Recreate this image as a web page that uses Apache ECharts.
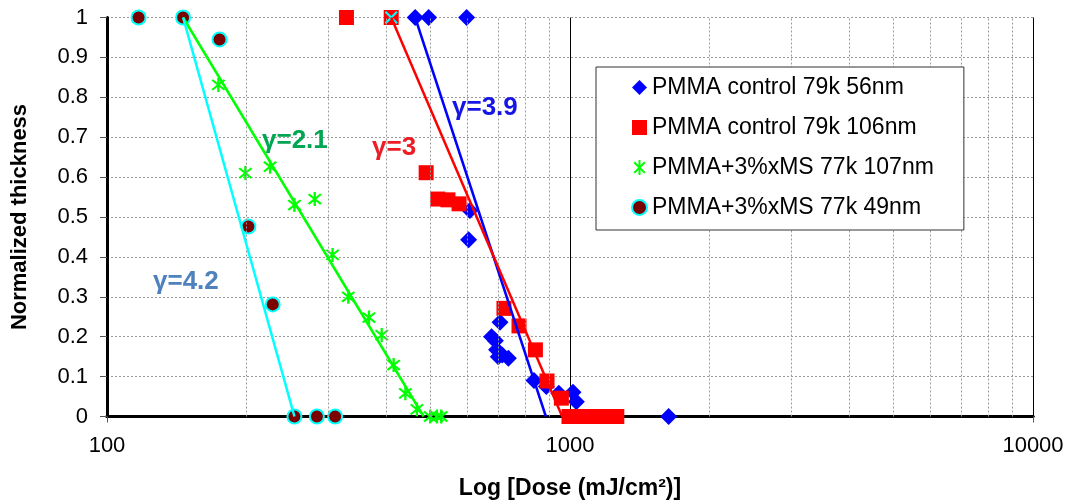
<!DOCTYPE html>
<html><head><meta charset="utf-8">
<script src="https://cdn.jsdelivr.net/npm/echarts@6/dist/echarts.min.js"></script>
<style>html,body{margin:0;padding:0;background:#fff}#c{width:1077px;height:502px}</style>
</head><body><div id="c"></div>
<script>
// ---------- data (dose in mJ/cm², normalized thickness) ----------
const names = ['PMMA control 79k 56nm','PMMA control 79k 106nm','PMMA+3%xMS 77k 107nm','PMMA+3%xMS 77k 49nm'];
const blueDose  = [463,495,598,608,604,706,677,690,694,700,714,736,836,889,946,1015,1032,1633];
const blueThick = [1,1,1,0.516,0.443,0.236,0.200,0.190,0.167,0.150,0.154,0.146,0.090,0.075,0.058,0.061,0.037,0];
const redDose   = [329,411,489,518,545,576,720,776,842,892,958,995,1020,1045,1070,1095,1120,1150,1180,1210,1240,1262];
const redThick  = [1,1,0.611,0.545,0.543,0.533,0.271,0.227,0.167,0.089,0.046,0,0,0,0,0,0,0,0,0,0,0];
const greenDose = [117,146,174,199,225,254,281,307,332,368,392,416,441,467,499,516,527];
const greenThick= [1,1,0.831,0.610,0.626,0.530,0.545,0.405,0.300,0.248,0.204,0.129,0.058,0.018,0,0,0];
const darkDose  = [117,146,175,202,228,254,284,311];
const darkThick = [1,1,0.945,0.476,0.281,0,0,0];
const crossDose = [411];
const crossThick= [1];
// fitted gamma lines (start, end)
const fitBlueDose  = [463,887];  const fitBlueThick  = [1,0];
const fitRedDose   = [411,962];  const fitRedThick   = [1,0];
const fitGreenDose = [146,483];  const fitGreenThick = [1,0];
const fitCyanDose  = [146,254];  const fitCyanThick  = [1,0];
const minorGrid = [200,300,400,500,600,700,800,900,2000,3000,4000,5000,6000,7000,8000,9000];
const xTickLabels = {100:'100', 1000:'1000', 10000:'10000'};
const gammaLabels = ['γ=3.9','γ=3','γ=2.1','γ=4.2'];
const xTitle = 'Log [Dose (mJ/cm²)]';
const yTitle = 'Normalized thickness';

const zip = (a,b) => a.map((v,i)=>[v,b[i]]);
const FONT = '"Liberation Sans", Arial, sans-serif';
const asterisk = 'path://M8.8,1L11.2,1L11.2,19L8.8,19Z M4.45,2.75L17.25,15.55L15.55,17.25L2.75,4.45Z M2.75,15.55L15.55,2.75L17.25,4.45L4.45,17.25Z';
const xmark = 'path://M4.45,2.75L17.25,15.55L15.55,17.25L2.75,4.45Z M2.75,15.55L15.55,2.75L17.25,4.45L4.45,17.25Z';

const chart = echarts.init(document.getElementById('c'), null, {renderer:'canvas'});
const fitLine = (d, t, color) => ({
  type:'line', data: zip(d,t), symbol:'none', z:5, silent:true,
  lineStyle:{color, width:2.5}, animation:false
});

chart.setOption({
  animation:false,
  backgroundColor:'#fff',
  grid:{left:107, right:44, top:17.5, bottom:85.5, containLabel:false, outerBoundsMode:'none'},
  xAxis:[{
    type:'log', logBase:10, min:100, max:10000,
    name:xTitle, nameLocation:'middle', nameGap:61,
    nameTextStyle:{fontFamily:FONT, fontSize:23, fontWeight:'bold', color:'#000'},
    axisLine:{show:true, onZero:false, lineStyle:{color:'#000', width:3}},
    axisTick:{show:true, length:6, lineStyle:{color:'#555', width:1}},
    axisLabel:{fontFamily:FONT, fontSize:22, color:'#000', margin:18,
      formatter:v => xTickLabels[Math.round(v)] || String(Math.round(v))},
    splitLine:{show:true, lineStyle:{color:'#000', width:1}},
    minorTick:{show:false}, minorSplitLine:{show:false}
  },{
    type:'log', logBase:10, min:100, max:10000, position:'top',
    axisLine:{show:true, lineStyle:{color:'#000', width:3}},
    axisTick:{show:false}, axisLabel:{show:false}, splitLine:{show:false}
  }],
  yAxis:{
    type:'value', min:0, max:1, interval:0.1,
    name:yTitle, nameLocation:'middle', nameGap:76, nameRotate:90,
    nameTextStyle:{fontFamily:FONT, fontSize:22, fontWeight:'bold', color:'#000'},
    axisLine:{show:true, lineStyle:{color:'#000', width:3}},
    axisTick:{show:true, length:7, lineStyle:{color:'#555', width:1}},
    axisLabel:{fontFamily:FONT, fontSize:22, color:'#000', margin:19,
      formatter:v => String(Math.round(v*10)/10)},
    splitLine:{show:true, lineStyle:{color:'#9a9a9a', width:1, type:[2,2]}}
  },
  legend:{
    data:names, orient:'vertical', left:596, top:67,
    itemWidth:15, itemHeight:15, itemGap:17,
    padding:[9,30,11,35], borderColor:'#333', borderWidth:1, backgroundColor:'#fff',
    textStyle:{fontFamily:FONT, fontSize:23, color:'#000'},
    selectedMode:false, z:20
  },
  series:[
    {type:'line', data:[], silent:true, z:1,
     markLine:{silent:true, symbol:['none','none'], label:{show:false}, animation:false,
       lineStyle:{color:'#9a9a9a', width:1, type:[2,2]},
       data:minorGrid.map(v=>({xAxis:v}))}},
    {name:names[0], type:'scatter', data:zip(blueDose,blueThick), symbol:'diamond', symbolSize:17, z:3,
     itemStyle:{color:'#0000FF', opacity:1}},
    {name:names[1], type:'scatter', data:zip(redDose,redThick), symbol:'rect', symbolSize:15, z:3,
     itemStyle:{color:'#FF0000', opacity:1}},
    {name:names[2], type:'scatter', data:zip(greenDose,greenThick), symbol:asterisk, symbolSize:14, z:3,
     itemStyle:{color:'#00FF00', opacity:1}},
    {name:names[3], type:'scatter', data:zip(darkDose,darkThick), symbol:'circle', symbolSize:14, z:4,
     itemStyle:{color:'#7B0000', borderColor:'#00FFFF', borderWidth:2, opacity:1}},
    {type:'scatter', data:zip(crossDose,crossThick), symbol:xmark, symbolSize:13, z:4, silent:true,
     itemStyle:{color:'#00FFFF', opacity:1}},
    fitLine(fitBlueDose, fitBlueThick, '#0000FF'),
    fitLine(fitRedDose, fitRedThick, '#FF0000'),
    fitLine(fitGreenDose, fitGreenThick, '#00FF00'),
    fitLine(fitCyanDose, fitCyanThick, '#00FFFF')
  ],
  graphic:[
    {type:'text', x:452, y:107.5, z:10, style:{text:gammaLabels[0], fill:'#1515E6', font:'bold 26px '+FONT, verticalAlign:'middle'}},
    {type:'text', x:372, y:148, z:10, style:{text:gammaLabels[1], fill:'#EE1C24', font:'bold 26px '+FONT, verticalAlign:'middle'}},
    {type:'text', x:262, y:141, z:10, style:{text:gammaLabels[2], fill:'#00A651', font:'bold 26px '+FONT, verticalAlign:'middle'}},
    {type:'text', x:153, y:282, z:10, style:{text:gammaLabels[3], fill:'#4F81BD', font:'bold 26px '+FONT, verticalAlign:'middle'}}
  ]
});
</script></body></html>
